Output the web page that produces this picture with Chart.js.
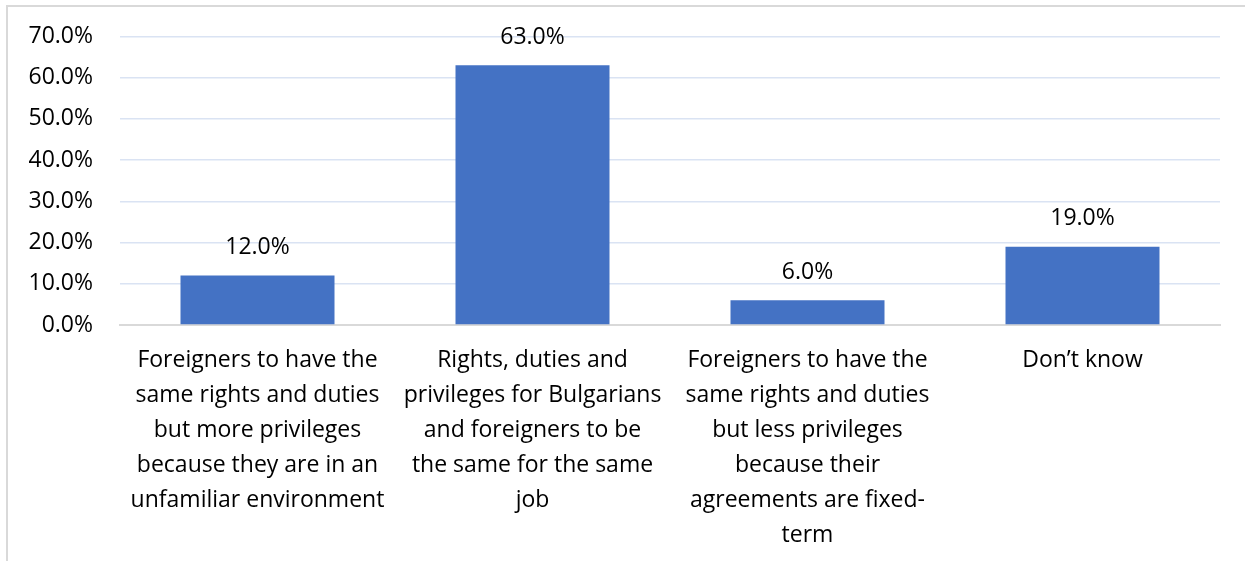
<!DOCTYPE html>
<html>
<head>
<meta charset="utf-8">
<script src="https://cdn.jsdelivr.net/npm/chart.js@4.4.1/dist/chart.umd.min.js"></script>
<style>
  html, body { margin: 0; padding: 0; background: #fff; }
  #wrap { position: relative; width: 1245px; height: 561px; overflow: hidden; }
  #frame { position: absolute; left: 6px; top: 5px; width: 1300px; height: 600px;
           border-left: 2px solid #d9d9d9; border-top: 2px solid #d9d9d9; }
  canvas { position: absolute; left: 0; top: 0; }
</style>
</head>
<body>
<div id="wrap">
  <div id="frame"></div>
  <canvas id="chart" width="1245" height="561"></canvas>
</div>
<script>
// answer categories, pre-wrapped the way they are shown under the bars
const categories = [
  ["Foreigners to have the", "same rights and duties", "but more privileges", "because they are in an", "unfamiliar environment"],
  ["Rights, duties and", "privileges for Bulgarians", "and foreigners to be", "the same for the same", "job"],
  ["Foreigners to have the", "same rights and duties", "but less privileges", "because their", "agreements are fixed-", "term"],
  ["Don\u2019t know"]
];
const shares = [12.0, 63.0, 6.0, 19.0];
const yMin = 0, yMax = 70, yStep = 10;

const FONT = "'Open Sans', 'Noto Sans', sans-serif";
const FONT_SIZE = 23;

// percent labels above each bar
const valueLabels = {
  id: 'valueLabels',
  afterDatasetsDraw(chart) {
    const ctx = chart.ctx;
    const meta = chart.getDatasetMeta(0);
    ctx.save();
    ctx.font = FONT_SIZE + 'px ' + FONT;
    ctx.fillStyle = '#000';
    ctx.textAlign = 'center';
    ctx.textBaseline = 'middle';
    meta.data.forEach((bar, i) => {
      ctx.fillText(shares[i].toFixed(1) + '%', bar.x, bar.y - 28);
    });
    ctx.restore();
  }
};

new Chart(document.getElementById('chart'), {
  type: 'bar',
  data: {
    labels: categories,
    datasets: [{
      data: shares,
      backgroundColor: '#4472c4',
      categoryPercentage: 0.56,
      barPercentage: 1.0
    }]
  },
  options: {
    responsive: false,
    animation: false,
    devicePixelRatio: 1,
    layout: { padding: { left: 0, top: 20, right: 25, bottom: 0 } },
    plugins: { legend: { display: false }, tooltip: { enabled: false } },
    scales: {
      x: {
        grid: { display: false, drawTicks: false },
        border: { color: '#d9d9d9', width: 2 },
        ticks: {
          color: '#000',
          font: { family: FONT, size: FONT_SIZE, lineHeight: 35 / FONT_SIZE },
          padding: 18,
          maxRotation: 0,
          autoSkip: false
        },
        afterFit(scale) { scale.height = 236; }
      },
      y: {
        min: yMin,
        max: yMax,
        grid: {
          drawTicks: false,
          color: ctx => ctx.tick.value === 0 ? '#d9d9d9' : '#dae3f3',
          lineWidth: 1.5
        },
        border: { display: false },
        ticks: {
          stepSize: yStep,
          color: '#000',
          // small lineHeight keeps the top label's reserved space tight
          font: { family: FONT, size: FONT_SIZE, lineHeight: 0.82 },
          padding: 27,
          callback: v => v.toFixed(1) + '%'
        },
        afterFit(scale) { scale.width = 120; }
      }
    }
  },
  plugins: [valueLabels]
});
</script>
</body>
</html>
